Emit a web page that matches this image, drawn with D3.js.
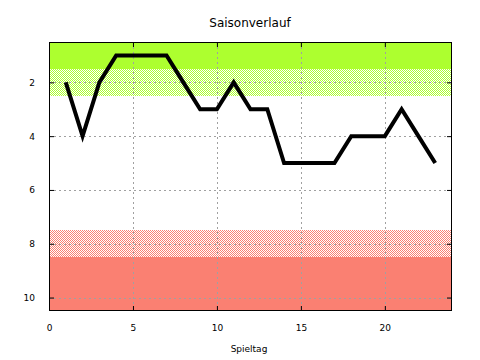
<!DOCTYPE html>
<html><head><meta charset="utf-8">
<script src="https://cdn.jsdelivr.net/npm/d3@7"></script>
<style>body{margin:0;background:#fff}svg{display:block}text{font-family:"DejaVu Sans",sans-serif}</style>
</head><body><svg id="c" width="480" height="360"></svg>
<script>
const title = "Saisonverlauf";
const xLabel = "Spieltag";
const spieltag = [1,2,3,4,5,6,7,8,9,10,11,12,13,14,15,16,17,18,19,20,21,22,23];
const platz = [2,4,2,1,1,1,1,2,3,3,2,3,3,5,5,5,5,4,4,4,3,4,5];
const xTicks = [0,5,10,15,20];
const yTicks = [2,4,6,8,10];
// zones: [from, to, color, patterned]
const zoneFrom = [0.5, 1.5, 7.5, 8.5];
const zoneTo = [1.5, 2.5, 8.5, 10.5];
const zoneColor = ["#adff2f", "#adff2f", "#fa8072", "#fa8072"];
const zonePattern = [false, true, true, false];

const svg = d3.select("#c");
const m = {l:49, r:452, t:42, b:311};
const x = d3.scaleLinear().domain([0,24]).range([m.l, m.r]);
const y = d3.scaleLinear().domain([0.5,10.5]).range([m.t, m.b]);

const defs = svg.append("defs");
["#adff2f","#fa8072"].forEach((c,i)=>{
  const p = defs.append("pattern").attr("id","pat"+i).attr("patternUnits","userSpaceOnUse")
    .attr("width",2).attr("height",2);
  p.append("rect").attr("width",2).attr("height",2).attr("fill","#fff");
  p.append("rect").attr("x",0).attr("y",0).attr("width",1).attr("height",1).attr("fill",c);
  p.append("rect").attr("x",1).attr("y",1).attr("width",1).attr("height",1).attr("fill",c);
});

svg.append("g").selectAll("rect").data(zoneFrom).join("rect")
  .attr("x", m.l).attr("width", m.r-m.l)
  .attr("y", (d)=>y(d)).attr("height", (d,i)=>y(zoneTo[i])-y(d))
  .attr("fill", (d,i)=> zonePattern[i] ? "url(#pat"+(zoneColor[i]==="#adff2f"?0:1)+")" : zoneColor[i])
  .attr("shape-rendering","crispEdges");

// grid
const grid = svg.append("g").attr("stroke","#a0a0a0").attr("stroke-dasharray","2,3").attr("stroke-width",1).attr("shape-rendering","crispEdges");
xTicks.filter(d=>d>0).forEach(d=>grid.append("line").attr("x1",Math.round(x(d))+0.5).attr("x2",Math.round(x(d))+0.5).attr("y1",m.t).attr("y2",m.b));
yTicks.forEach(d=>grid.append("line").attr("y1",Math.round(y(d))+0.5).attr("y2",Math.round(y(d))+0.5).attr("x1",m.l).attr("x2",m.r));

// line
svg.append("path").datum(spieltag.map((s,i)=>[s,platz[i]]))
  .attr("fill","none").attr("stroke","#000").attr("stroke-width",4).attr("stroke-linejoin","miter")
  .attr("d", d3.line().x(d=>x(d[0])).y(d=>y(d[1])));

// axes with inward ticks
const tl = 5;
const axB = d3.axisBottom(x).tickValues(xTicks).tickSize(-tl).tickPadding(14).tickFormat(d3.format("d"));
const axT = d3.axisTop(x).tickValues(xTicks).tickSize(-tl).tickFormat("");
const axL = d3.axisLeft(y).tickValues(yTicks).tickSize(-tl).tickPadding(14).tickFormat(d3.format("d"));
const axR = d3.axisRight(y).tickValues(yTicks).tickSize(-tl).tickFormat("");
function style(g){ g.select(".domain").remove(); g.selectAll("line").attr("stroke","#000"); g.selectAll("text").attr("font-size",9).attr("fill","#000").attr("font-family","DejaVu Sans, sans-serif"); }
svg.append("g").attr("transform",`translate(0,${m.b})`).call(axB).call(style);
svg.append("g").attr("transform",`translate(0,${m.t})`).call(axT).call(style);
svg.append("g").attr("transform",`translate(${m.l},0)`).call(axL).call(style);
svg.append("g").attr("transform",`translate(${m.r},0)`).call(axR).call(style);

svg.append("rect").attr("x",m.l+0.5).attr("y",m.t+0.5).attr("width",m.r-m.l-1).attr("height",m.b-m.t-1)
  .attr("fill","none").attr("stroke","#000").attr("stroke-width",1).attr("shape-rendering","crispEdges");

svg.append("text").attr("x",250).attr("y",27).attr("text-anchor","middle").attr("font-size",12).text(title);
svg.append("text").attr("x",249).attr("y",352).attr("text-anchor","middle").attr("font-size",9).text(xLabel);
</script></body></html>
